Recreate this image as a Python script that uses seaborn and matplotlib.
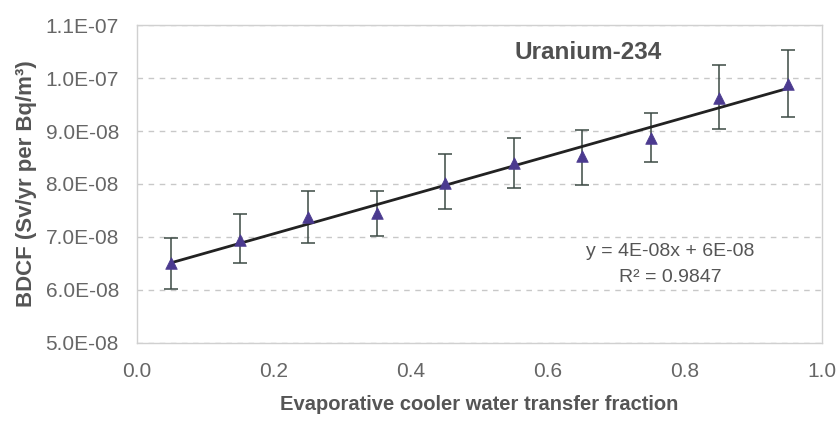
import numpy as np
import pandas as pd
import matplotlib
matplotlib.use("Agg")
import matplotlib.pyplot as plt
from matplotlib.ticker import FuncFormatter, MultipleLocator
import seaborn as sns

# values
fraction = [0.05, 0.15, 0.25, 0.35, 0.45, 0.55, 0.65, 0.75, 0.85, 0.95]
bdcf = [6.50e-8, 6.94e-8, 7.38e-8, 7.45e-8, 8.02e-8, 8.39e-8, 8.53e-8, 8.87e-8, 9.63e-8, 9.88e-8]
err_low = [0.49e-8, 0.43e-8, 0.49e-8, 0.44e-8, 0.50e-8, 0.47e-8, 0.54e-8, 0.46e-8, 0.60e-8, 0.62e-8]
err_high = [0.49e-8, 0.49e-8, 0.49e-8, 0.41e-8, 0.54e-8, 0.47e-8, 0.48e-8, 0.47e-8, 0.62e-8, 0.64e-8]

title = "Uranium-234"
equation = "y = 4E-08x + 6E-08"
r_squared = "R² = 0.9847"

df = pd.DataFrame({"fraction": fraction, "bdcf": bdcf})

sns.set_style("white")
plt.rcParams["font.family"] = ["Liberation Sans", "DejaVu Sans"]

fig = plt.figure(figsize=(8.37, 4.21), dpi=100)
ax = fig.add_axes([0.1637, 0.1853, 0.8183, 0.7553])

# trend line
sns.regplot(data=df, x="fraction", y="bdcf", ax=ax, scatter=False, ci=None,
            truncate=True, line_kws={"color": "#222222", "lw": 2.0, "zorder": 3})

ax.errorbar(fraction, bdcf, yerr=[err_low, err_high], fmt="none",
            ecolor="#3c4a44", elinewidth=1.1, capsize=5, capthick=1.1, zorder=2)
sns.scatterplot(data=df, x="fraction", y="bdcf", ax=ax, marker="^", s=70,
                color="#4b3a8f", edgecolor="#4b3a8f", linewidth=0.5, zorder=4)

ax.set_xlim(0, 1.0)
ax.set_ylim(5e-8, 1.1e-7)
ax.xaxis.set_major_locator(MultipleLocator(0.2))
ax.yaxis.set_major_locator(MultipleLocator(1e-8))
ax.xaxis.set_major_formatter(FuncFormatter(lambda v, p: f"{v:.1f}"))
ax.yaxis.set_major_formatter(FuncFormatter(lambda v, p: f"{v:.1E}"))

ax.grid(axis="y", linestyle=(0, (4, 4)), color="#c8c8c8", lw=1.0)
ax.grid(axis="x", visible=False)
for s in ax.spines.values():
    s.set_color("#d0d0d0")
    s.set_linewidth(1.0)

ax.tick_params(axis="both", labelsize=15, colors="#d0d0d0", labelcolor="#666666",
               length=4, width=1, direction="out")
ax.tick_params(axis="x", pad=10)
ax.tick_params(axis="y", pad=9)

ax.set_xlabel("Evaporative cooler water transfer fraction", fontsize=14.5,
              fontweight="bold", color="#555555", labelpad=10)
ax.set_ylabel("BDCF (Sv/yr per Bq/m³)", fontsize=16, fontweight="bold",
              color="#555555", labelpad=6)

ax.text(0.658, 1.049e-7, title, ha="center", va="center", fontsize=17.5,
        fontweight="bold", color="#505050")
ax.text(0.778, 6.72e-8, equation, ha="center", va="center", fontsize=14, color="#555555")
ax.text(0.778, 6.23e-8, r_squared, ha="center", va="center", fontsize=14, color="#555555")

fig.savefig("out.png", dpi=100)
